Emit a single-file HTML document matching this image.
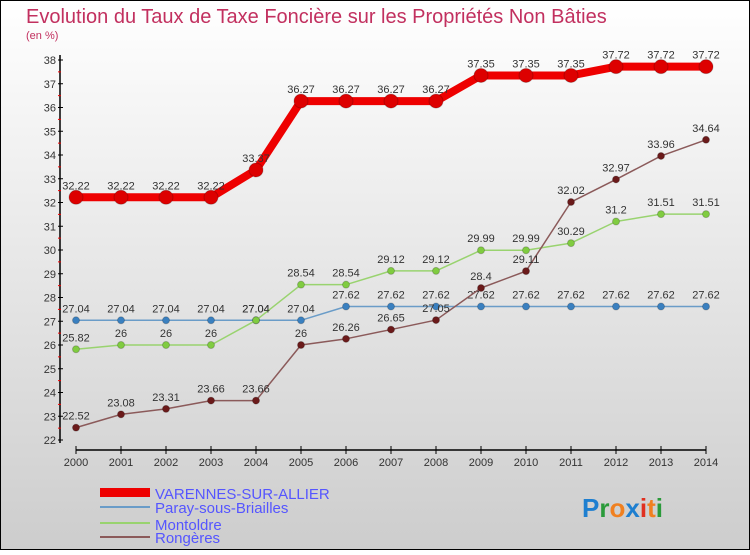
<!DOCTYPE html>
<html><head><meta charset="utf-8"><style>
body{margin:0}
#c{width:750px;height:550px;position:relative;font-family:"Liberation Sans",sans-serif;}
svg text{font-family:"Liberation Sans",sans-serif}
</style></head><body>
<div id="c">
<svg id="s" width="750" height="550" xmlns="http://www.w3.org/2000/svg">
<defs><linearGradient id="bg" x1="0" y1="0" x2="0" y2="1"><stop offset="0" stop-color="#ffffff"/><stop offset="1" stop-color="#cdcdcd"/></linearGradient></defs>
<rect x="0.5" y="0.5" width="749" height="549" fill="url(#bg)" stroke="#000"/>
<text x="26" y="23" font-size="20" fill="#c2305f">Evolution du Taux de Taxe Foncière sur les Propriétés Non Bâties</text>
<text x="26" y="39" font-size="11" fill="#c2305f">(en %)</text>
<g id="axes"></g><g id="series"></g>
<g>
<rect x="100" y="488" width="50" height="9" fill="#e00"/>
<text x="155" y="499" font-size="15" fill="#5555ff">VARENNES-SUR-ALLIER</text>
<rect x="100" y="506" width="50" height="2" fill="#6a9cc8"/>
<text x="155" y="513" font-size="15" fill="#5555ff">Paray-sous-Briailles</text>
<rect x="100" y="522" width="50" height="2" fill="#99d36f"/>
<text x="155" y="530" font-size="15" fill="#5555ff">Montoldre</text>
<rect x="100" y="536" width="50" height="2" fill="#8b5a5a"/>
<text x="155" y="543" font-size="15" fill="#5555ff">Rongères</text>
</g>
<text x="582" y="517" font-size="26" font-weight="bold"><tspan fill="#1e7fd0">P</tspan><tspan fill="#2a9a3a">r</tspan><tspan fill="#f08020">o</tspan><tspan fill="#1e7fd0">x</tspan><tspan fill="#e03020">i</tspan><tspan fill="#f08020">t</tspan><tspan fill="#2a9a3a">i</tspan></text>
</svg></div>
<script>
const years=[2000,2001,2002,2003,2004,2005,2006,2007,2008,2009,2010,2011,2012,2013,2014];
const varennes=[32.22,32.22,32.22,32.22,33.37,36.27,36.27,36.27,36.27,37.35,37.35,37.35,37.72,37.72,37.72];
const paray=[27.04,27.04,27.04,27.04,27.04,27.04,27.62,27.62,27.62,27.62,27.62,27.62,27.62,27.62,27.62];
const montoldre=[25.82,26,26,26,27.04,28.54,28.54,29.12,29.12,29.99,29.99,30.29,31.2,31.51,31.51];
const rongeres=[22.52,23.08,23.31,23.66,23.66,26,26.26,26.65,27.05,28.4,29.11,32.02,32.97,33.96,34.64];
const yTicks=[22,23,24,25,26,27,28,29,30,31,32,33,34,35,36,37,38];
const NS="http://www.w3.org/2000/svg";
const x=i=>76+i*45;
const y=v=>440-(v-22)*23.75;
function mk(tag,attrs,parent){const e=document.createElementNS(NS,tag);for(const k in attrs)e.setAttribute(k,attrs[k]);parent.appendChild(e);return e;}
const ax=document.getElementById('axes');
let e=mk('line',{x1:60,y1:55,x2:60,y2:443,stroke:'#000','stroke-width':1.5},ax);


e=mk('line',{x1:76,y1:450,x2:706,y2:450,stroke:'#000','stroke-width':1.5},ax);


yTicks.forEach(v=>{
  mk('line',{x1:58,y1:y(v),x2:63,y2:y(v),stroke:'#000'},ax);
  if(v<38)mk('line',{x1:58,y1:y(v+0.5),x2:61,y2:y(v+0.5),stroke:'#e00'},ax);
  const t=mk('text',{x:56,y:y(v)+4,'font-size':11,'text-anchor':'end',fill:'#333'},ax);
  t.textContent=v;
  
  
});
years.forEach((yr,i)=>{
  mk('line',{x1:x(i),y1:446,x2:x(i),y2:454,stroke:'#000'},ax);
  const t=mk('text',{x:x(i),y:466,'font-size':11,'text-anchor':'middle',fill:'#333'},ax);
  t.textContent=yr;
  
  
});
const sg=document.getElementById('series');
function series(vals,color,dot,w,r,name){
  const g=mk('g',{},sg);
  
  
  mk('polyline',{points:vals.map((v,i)=>x(i)+','+y(v)).join(' '),fill:'none',stroke:color,'stroke-width':w,'stroke-linejoin':'round'},g);
  vals.forEach((v,i)=>{
    const c=mk('circle',{cx:x(i),cy:y(v),r:r,fill:dot,stroke:'#0003'},g);
    
    
    const t=mk('text',{x:x(i),y:y(v)-8,'font-size':11,'text-anchor':'middle',fill:'#333'},g);
    t.textContent=v;
    
    
  });
}
series(paray,'#6a9cc8','#3a80c0',1.5,3.5,'series-paray');
series(montoldre,'#99d36f','#80cc40',1.5,3.5,'series-montoldre');
series(rongeres,'#8b5a5a','#6b1a1a',1.5,3.5,'series-rongeres');
series(varennes,'#ee0000','#dd0000',8,7,'series-varennes');
</script>
</body></html>
